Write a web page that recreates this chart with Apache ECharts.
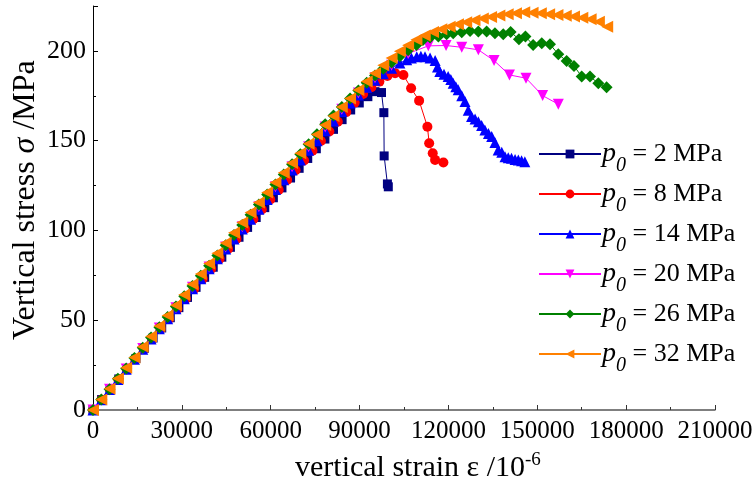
<!DOCTYPE html>
<html>
<head>
<meta charset="utf-8">
<script src="https://cdn.jsdelivr.net/npm/echarts@6/dist/echarts.min.js"></script>
<style>html,body{margin:0;padding:0;background:#fff}#c{width:753px;height:495px}</style>
</head>
<body>
<div id="c"></div>
<script>
// ---- data (strain in 10^-6, stress in MPa) ----
const seriesNames = ['p0 = 2 MPa', 'p0 = 8 MPa', 'p0 = 14 MPa', 'p0 = 20 MPa', 'p0 = 26 MPa', 'p0 = 32 MPa'];
const xTicks = [0, 30000, 60000, 90000, 120000, 150000, 180000, 210000];
const yTicks = [0, 50, 100, 150, 200];

const strainP2 = [0,2900,5800,8700,11600,14500,17400,20300,23200,26100,29000,31900,34800,37700,40600,43500,46400,49300,52200,55100,58000,60900,63800,66700,69600,72500,75400,78300,81200,84100,87000,89900,92800,95200,97400,98200,98300,99400,99700];
const stressP2 = [0,5.8,11.5,17.3,23.0,28.7,34.4,40.1,45.7,51.4,57.0,62.7,68.3,73.9,79.5,85.1,90.6,96.2,101.7,107.2,112.7,118.2,123.7,129.2,134.6,140.1,145.5,150.9,156.3,161.7,167.1,171.0,174.5,177.3,176.8,165.6,141.5,125.9,124.3];

const strainP8 = [0,2850,5700,8550,11400,14250,17100,19950,22800,25650,28500,31350,34200,37050,39900,42750,45600,48450,51300,54150,57000,59850,62700,65550,68400,71250,74100,76950,79800,82650,85500,88350,91200,94000,96700,99400,102000,104800,107400,110100,112900,113500,114700,115500,118300];
const stressP8 = [0,5.7,11.4,17.0,22.7,28.4,34.0,39.6,45.2,50.8,56.4,62.0,67.6,73.1,78.7,84.2,89.7,95.3,100.8,106.2,111.7,117.2,122.6,128.1,133.5,139.0,144.4,149.8,155.1,160.5,165.9,171.2,176.0,179.8,182.9,186.0,187.6,186.6,179.2,172.3,157.8,148.6,143.0,139.3,137.8];

const strainP14 = [0,2800,5600,8400,11200,14000,16800,19600,22400,25200,28000,30800,33600,36400,39200,42000,44800,47600,50400,53200,56000,58800,61600,64400,67200,70000,72800,75600,78400,81200,84000,86800,89600,92400,95200,98000,100800,103600,105900,107500,109300,110700,112100,113800,115500,116300,117100,118500,119900,120800,121600,122500,123300,124500,125600,126700,127800,129000,130100,131200,132300,133500,134600,135700,136800,138000,139100,140200,141300,142500,143600,144700,145800];
const stressP14 = [0,5.7,11.4,17.0,22.7,28.3,33.9,39.6,45.2,50.8,56.4,62.0,67.5,73.1,78.7,84.2,89.7,95.3,100.8,106.3,111.8,117.3,122.8,128.2,133.7,139.2,144.6,150.0,155.5,160.9,166.3,171.0,175.5,179.8,183.6,187.2,190.4,193.2,195.0,196.0,196.8,197.0,196.8,196.0,194.6,191.0,188.5,187.0,185.7,184.0,182.0,180.0,178.3,175.0,171.8,167.0,163.4,162.0,160.6,158.5,156.0,154.0,152.3,149.0,144.8,143.5,141.1,140.5,140.2,139.5,139.3,138.8,138.3];

const strainP20 = [0,5600,11200,16800,22400,28000,33600,39200,44800,50400,56000,61600,67200,72800,78400,84000,89600,95200,100800,106400,113200,119200,124500,130100,135400,140600,146200,151800,157100];
const stressP20 = [0,11.5,22.9,34.3,45.7,57.0,68.3,79.6,90.8,102.1,113.2,124.4,135.5,146.6,157.6,167.5,176.5,185.0,192.0,198.5,202.8,203.0,202.0,200.6,194.6,186.6,184.8,175.1,170.3];

const strainP26 = [0,2800,5600,8400,11200,14000,16800,19600,22400,25200,28000,30800,33600,36400,39200,42000,44800,47600,50400,53200,56000,58800,61600,64400,67200,70000,72800,75600,78400,81200,84000,86800,89600,92400,95200,98000,100800,103600,106400,109200,111400,113800,116600,119400,121600,124500,127300,130100,132900,135700,138500,141000,143800,146000,148600,151500,154300,157100,159900,162400,165000,167800,170600,173400];
const stressP26 = [0,5.8,11.6,17.4,23.1,28.9,34.6,40.4,46.1,51.8,57.6,63.3,69.0,74.7,80.4,86.1,91.7,97.4,103.1,108.7,114.4,120.0,125.6,131.2,136.8,142.5,148.0,153.6,159.2,164.0,168.8,173.5,178.0,182.3,186.3,190.0,193.5,197.0,200.3,203.3,206.0,207.4,208.0,209.3,209.8,210.4,211.1,210.8,210.8,209.8,209.3,210.5,206.5,208.0,203.3,204.3,203.7,198.1,194.4,191.6,185.7,185.7,182.0,179.8];

const strainP32 = [0,2800,5600,8400,11200,14000,16800,19600,22400,25200,28000,30800,33600,36400,39200,42000,44800,47600,50400,53200,56000,58800,61600,64400,67200,70000,72800,75600,78400,81200,84000,86800,89600,92400,95200,98000,100800,103600,106400,109200,112000,114800,117600,120400,123200,126000,128800,131600,134400,137200,140000,142800,145600,148400,151200,154000,156800,159600,162400,165200,168000,170800,173600];
const stressP32 = [0,5.9,11.8,17.6,23.5,29.3,35.2,41.0,46.8,52.6,58.4,64.2,70.0,75.8,81.6,87.3,93.0,98.7,104.4,110.0,115.6,121.2,126.7,132.2,137.6,143.0,148.3,153.5,158.7,163.8,168.7,173.5,178.2,183.0,187.6,192.0,196.0,199.8,203.2,206.2,208.6,210.5,212.1,213.5,214.8,216.0,217.0,218.0,218.9,219.7,220.4,221.0,221.5,221.3,220.9,220.4,220.0,219.6,219.1,218.5,217.6,216.2,213.5];

const strains = [strainP2, strainP8, strainP14, strainP20, strainP26, strainP32];
const stresses = [stressP2, stressP8, stressP14, stressP20, stressP26, stressP32];

// ---- styles ----
const colors = ['#000080', '#ff0000', '#0000ff', '#ff00ff', '#008000', '#ff8000'];
const symbols = ['rect', 'circle', 'triangle', 'triangle', 'diamond', 'triangle'];
const rotations = [0, 0, 0, 180, 0, 90];
const sizes = [9, 10, 11, 11, 12, 12];
const FONT = 'Liberation Serif, Times New Roman, serif';

const series = seriesNames.map((name, i) => ({
  name: name,
  type: 'line',
  data: strains[i].map((x, k) => [x, stresses[i][k]]),
  symbol: symbols[i],
  symbolRotate: rotations[i],
  symbolSize: sizes[i],
  showAllSymbol: true,
  color: colors[i],
  itemStyle: { color: colors[i] },
  lineStyle: { color: colors[i], width: 1 },
  animation: false
}));

const chart = echarts.init(document.getElementById('c'));
chart.setOption({
  animation: false,
  backgroundColor: '#fff',
  grid: { left: 93, right: 38, top: 6, bottom: 85, containLabel: false, outerBoundsMode: 'none' },
  legend: {
    orient: 'vertical',
    left: 533,
    top: 135,
    itemWidth: 62,
    itemHeight: 11,
    itemGap: 4,
    symbolRotate: 'inherit',
    data: seriesNames,
    formatter: function (name) { return '{i|p}{s|0}{n|' + name.slice(2) + '}'; },
    textStyle: {
      fontFamily: FONT, fontSize: 25, color: '#000', padding: [0, 0, 0, -4],
      rich: {
        i: { fontFamily: FONT, fontSize: 28, fontStyle: 'italic', color: '#000', lineHeight: 44 },
        s: { fontFamily: FONT, fontSize: 20, fontStyle: 'italic', color: '#000', lineHeight: 4, verticalAlign: 'bottom' },
        n: { fontFamily: FONT, fontSize: 26, color: '#000', lineHeight: 44 }
      }
    }
  },
  graphic: [
    {
      type: 'text',
      left: 295, top: 451,
      style: {
        text: '{a|vertical strain }{b|ε}{a| /10}{c|-6}',
        rich: {
          a: { fontFamily: FONT, fontSize: 30, fill: '#000', lineHeight: 34 },
          b: { fontFamily: FONT, fontSize: 30, fill: '#000', lineHeight: 34 },
          c: { fontFamily: FONT, fontSize: 19, fill: '#000', lineHeight: 12, verticalAlign: 'top' }
        }
      }
    },
    {
      type: 'text',
      x: 9, y: 340,
      rotation: Math.PI / 2,
      style: {
        text: '{a|Vertical stress }{b|σ}{a| /MPa}',
        rich: {
          a: { fontFamily: FONT, fontSize: 32, fill: '#000', lineHeight: 34 },
          b: { fontFamily: FONT, fontSize: 32, fill: '#000', fontStyle: 'italic', lineHeight: 34 }
        }
      }
    }
  ],
  xAxis: {
    type: 'value',
    min: xTicks[0],
    max: xTicks[xTicks.length - 1],
    interval: xTicks[1] - xTicks[0],
    axisLine: { show: true, lineStyle: { color: '#555', width: 1.5 } },
    axisTick: { show: true, inside: true, length: 5, lineStyle: { color: '#333' } },
    minorTick: { show: true, splitNumber: 2, length: 3, lineStyle: { color: '#333' } },
    splitLine: { show: false },
    axisLabel: { fontFamily: FONT, fontSize: 25, color: '#000', margin: 9, formatter: v => String(v) }
  },
  yAxis: {
    type: 'value',
    min: yTicks[0],
    max: 225,
    interval: yTicks[1] - yTicks[0],
    axisLine: { show: true, lineStyle: { color: '#000', width: 1 } },
    axisTick: { show: true, inside: true, length: 5, lineStyle: { color: '#000' } },
    minorTick: { show: true, splitNumber: 2, length: 3, lineStyle: { color: '#000' } },
    splitLine: { show: false },
    axisLabel: { fontFamily: FONT, fontSize: 26, color: '#000', margin: 7, showMaxLabel: false }
  },
  series: series
});
</script>
</body>
</html>
